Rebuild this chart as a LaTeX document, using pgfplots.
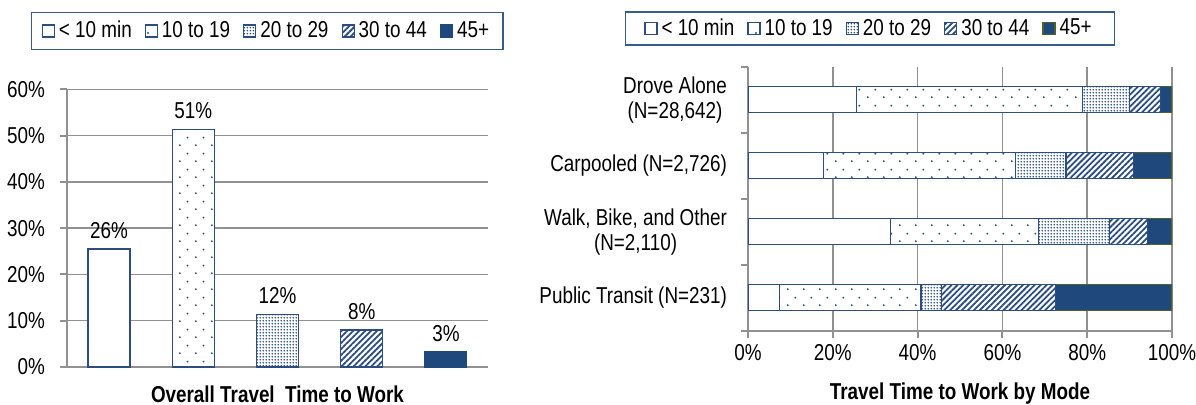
\documentclass[border=0pt]{standalone}
\usepackage{fontspec}
\setmainfont{Liberation Sans}[FakeStretch=0.82]
\usepackage{pgfplots}
\pgfplotsset{compat=1.18}
\usetikzlibrary{patterns,patterns.meta}
\definecolor{navy}{RGB}{31,73,125}
\definecolor{edge}{RGB}{44,77,130}
\definecolor{gridgray}{RGB}{145,145,145}
\definecolor{legblue}{RGB}{56,93,138}
\definecolor{olivee}{RGB}{79,98,40}

\tikzdeclarepattern{
  name=sparsedots,
  type=uncolored,
  bounding box={(0pt,0pt) and (8pt,8pt)},
  tile size={(8pt,8pt)},
  code={
    \pgfpathcircle{\pgfpoint{2pt}{2pt}}{0.55pt}
    \pgfpathcircle{\pgfpoint{6pt}{6pt}}{0.55pt}
    \pgfusepath{fill}
  }
}
\tikzdeclarepattern{
  name=densedots,
  type=uncolored,
  bounding box={(0pt,0pt) and (1.6pt,1.6pt)},
  tile size={(1.6pt,1.6pt)},
  code={
    \pgfpathcircle{\pgfpoint{0.8pt}{0.8pt}}{0.52pt}
    \pgfusepath{fill}
  }
}

\pgfplotsset{
  sq legend/.style={legend image code/.code={\draw[##1] (0pt,-3pt) rectangle (6pt,3pt);}},
  s1/.style={draw=edge, fill=white, line width=0.6pt, sq legend},
  s2/.style={draw=edge, fill=white, line width=0.6pt, postaction={pattern=sparsedots, pattern color=edge}, sq legend},
  s3/.style={draw=edge, fill=white, line width=0.6pt, postaction={pattern=densedots, pattern color=edge}, sq legend},
  s4/.style={draw=edge, fill=white, line width=0.6pt, postaction={pattern={Lines[angle=45,distance=2.1pt,line width=0.9pt]}, pattern color=edge}, sq legend},
}

\begin{document}
\begin{tikzpicture}
\useasboundingbox (0,0) rectangle (598pt,202.5pt);

% ---------------- left chart ----------------
\begin{axis}[
  at={(33.5pt,19pt)}, anchor=south west,
  scale only axis, width=210.5pt, height=138.75pt,
  font=\fontsize{11.5}{13}\selectfont,
  ybar, bar width=21pt, bar shift=0pt,
  xmin=-0.5, xmax=4.5, ymin=0, ymax=60,
  axis lines*=left,
  axis line style={gridgray, line width=1pt},
  tick style={gridgray, line width=1pt},
  tick align=outside, major tick length=3.5pt, minor tick length=3.5pt,
  ytick={0,10,20,30,40,50,60},
  yticklabels={0\%,10\%,20\%,30\%,40\%,50\%,60\%},
  yticklabel style={xshift=-4pt},
  xtick=\empty, minor xtick={-0.5,4.5},
  ymajorgrids, major grid style={gridgray, line width=0.75pt},
  xlabel={\bfseries Overall Travel~ Time to Work},
  xlabel style={at={(axis description cs:0.5,0)}, anchor=center, yshift=-13.5pt},
  nodes near coords, point meta=explicit symbolic,
  nodes near coords style={anchor=south, black, yshift=1.5pt},
  clip=false,
  legend columns=5,
  legend style={at={(axis description cs:0.476,1.2108)}, anchor=center,
    draw=legblue, line width=0.75pt, inner xsep=5pt, inner ysep=2.3pt,
    /tikz/every even column/.append style={column sep=4.5pt}},
]
\addplot[s1] coordinates {(0,25.5) [26\%]};
\addplot[s2] coordinates {(1,51.4) [51\%]};
\addplot[s3] coordinates {(2,11.4) [12\%]};
\addplot[s4] coordinates {(3,8.0) [8\%]};
\addplot[draw=navy, fill=navy, line width=0.6pt, sq legend] coordinates {(4,3.3) [3\%]};
\legend{< 10 min,10 to 19,20 to 29,30 to 44,45+}
\end{axis}

% ---------------- right chart ----------------
\begin{axis}[
  at={(374pt,37.15pt)}, anchor=south west,
  scale only axis, width=212pt, height=132pt,
  font=\fontsize{11.5}{12.5}\selectfont,
  xbar stacked, bar width=13pt,
  xmin=0, xmax=100, ymin=-0.5, ymax=3.5,
  axis lines*=left,
  axis line style={gridgray, line width=1pt},
  tick style={gridgray, line width=1pt},
  tick align=outside, major tick length=3.5pt, minor tick length=3.5pt,
  xtick={0,20,40,60,80,100},
  xticklabels={0\%,20\%,40\%,60\%,80\%,100\%},
  ytick={0,1,2,3},
  yticklabels={{Public Transit (N=231)},{Walk, Bike, and Other\\(N=2,110)},{Carpooled (N=2,726)},{Drove Alone\\(N=28,642)}},
  yticklabel style={align=center, xshift=-3.5pt},
  every major y tick/.append style={draw=none},
  minor ytick={-0.5,0.5,1.5,2.5,3.5},
  xmajorgrids, major grid style={gridgray, line width=0.75pt},
  xlabel={\bfseries Travel Time to Work by Mode},
  xlabel style={at={(axis description cs:0.5,0)}, anchor=center, yshift=-31.5pt},
  legend columns=5,
  legend style={at={(axis description cs:0.2877,1.1447)}, anchor=center,
    draw=legblue, line width=0.75pt, inner xsep=9.5pt, inner ysep=1.3pt,
    /tikz/every even column/.append style={column sep=4.5pt}},
]
\addplot[s1] coordinates {(7.4,0) (33.7,1) (17.9,2) (25.5,3)};
\addplot[s2] coordinates {(33.4,0) (34.8,1) (45.2,2) (53.3,3)};
\addplot[s3] coordinates {(4.8,0) (16.7,1) (11.9,2) (11.2,3)};
\addplot[s4] coordinates {(27.0,0) (9.0,1) (16.0,2) (7.3,3)};
\addplot[draw=olivee, fill=navy, line width=0.6pt, sq legend] coordinates {(27.4,0) (5.8,1) (9.0,2) (2.7,3)};
\legend{< 10 min,10 to 19,20 to 29,30 to 44,45+}
\end{axis}
\end{tikzpicture}
\end{document}
